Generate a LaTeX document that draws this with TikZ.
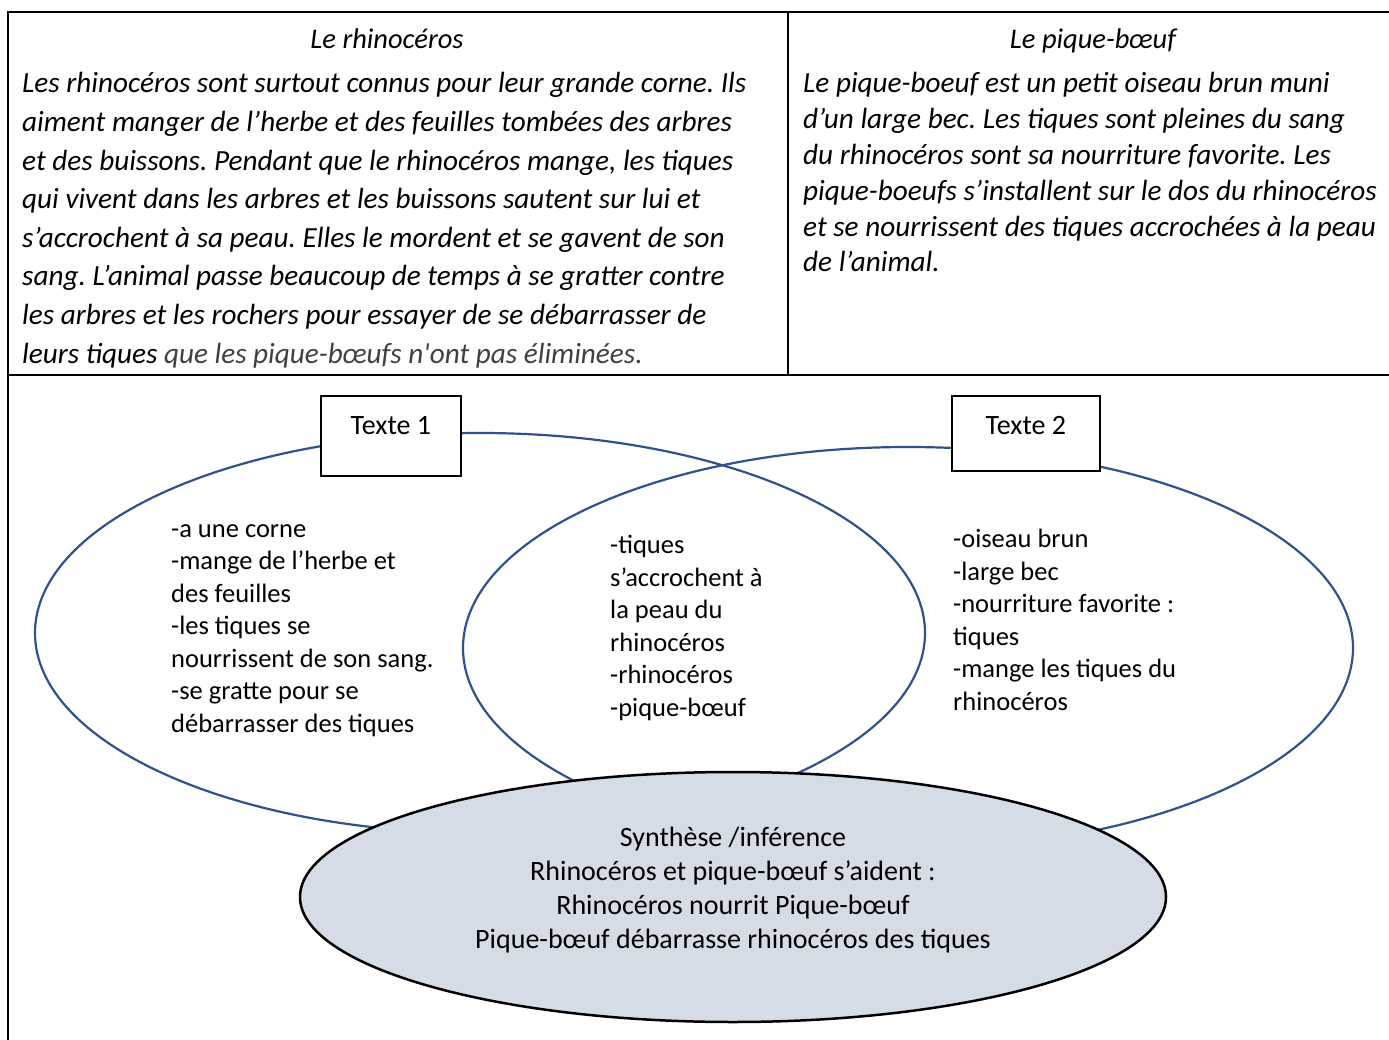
\documentclass[tikz,border=0pt]{standalone}
\usepackage{fontspec}
\setmainfont{Carlito}
\frenchspacing
\definecolor{vennblue}{RGB}{47,82,143}
\definecolor{synthgrey}{RGB}{214,220,229}
\definecolor{textgrey}{RGB}{64,64,64}

\begin{document}
\begin{tikzpicture}[x=1pt, y=-1pt,
  rule/.style={line width=2pt},
  vennline/.style={draw=vennblue, line width=2.2pt},
  title/.style={anchor=base, inner sep=0pt, font={\fontsize{28.5}{34}\selectfont\itshape}},
  para/.style={anchor=base west, align=left, inner sep=0pt},
  liste/.style={anchor=base west, align=left, inner sep=0pt, font={\fontsize{26.5}{32.5}\selectfont}},
  textebox/.style={draw, fill=white, line width=1.8pt, inner xsep=0pt, inner ysep=0pt, text height=39pt, text depth=41pt, font={\fontsize{28}{34}\selectfont}},
  synthtext/.style={align=center, inner sep=0pt, font={\fontsize{28}{34.3}\selectfont}}]
  \useasboundingbox (0,0) rectangle (1389,1040);
  % cadre du tableau
  \coordinate (hg) at (8,12);
  \coordinate (hd) at (1389,12);
  \coordinate (bg) at (8,1040);
  \coordinate (mh) at (788,12);
  \coordinate (mb) at (788,375);
  \coordinate (sg) at (8,375);
  \coordinate (sd) at (1389,375);
  \draw[rule] (hd) -- (hg) -- (bg);
  \draw[rule] (mh) -- (mb);
  \draw[rule] (sg) -- (sd);
  % les deux textes (ancre = ligne de base de la derniere ligne)
  \node[title] (titre1) at (387,49) {Le rhinocéros};
  \node[title] (titre2) at (1093,49) {Le pique-bœuf};
  \node[para, font={\fontsize{29.2}{38.6}\selectfont\itshape}] (texte-rhino) at (22,363)
    {Les rhinocéros sont surtout connus pour leur grande corne. Ils\\
     aiment manger de l’herbe et des feuilles tombées des arbres\\
     et des buissons. Pendant que le rhinocéros mange, les tiques\\
     qui vivent dans les arbres et les buissons sautent sur lui et\\
     s’accrochent à sa peau. Elles le mordent et se gavent de son\\
     sang. L’animal passe beaucoup de temps à se gratter contre\\
     les arbres et les rochers pour essayer de se débarrasser de\\
     leurs tiques {\color{textgrey}que les pique-bœufs n\textquotesingle ont pas éliminées.}};
  \node[para, font={\fontsize{29.2}{35.8}\selectfont\itshape}] (texte-oiseau) at (803,272)
    {Le pique-boeuf est un petit oiseau brun muni\\
     d’un large bec. Les tiques sont pleines du sang\\
     du rhinocéros sont sa nourriture favorite. Les\\
     pique-boeufs s’installent sur le dos du rhinocéros\\
     et se nourrissent des tiques accrochées à la peau\\
     de l’animal.};
  % diagramme de Venn
  \draw[vennline] (480,633) ellipse [x radius=445, y radius=200];
  \draw[vennline] (908,648) ellipse [x radius=445, y radius=201];
  \node[textebox, minimum width=140pt, anchor=north west] (texte1) at (320,395) {Texte 1};
  \node[textebox, minimum width=148pt, text depth=36pt, anchor=north west] (texte2) at (951,395) {Texte 2};
  \node[liste] (rhino) at (171,732)
    {-a une corne\\
     -mange de l’herbe et\\
     des feuilles\\
     -les tiques se\\
     nourrissent de son sang.\\
     -se gratte pour se\\
     débarrasser des tiques};
  \node[liste] (commun) at (610,716)
    {-tiques\\
     s’accrochent à\\
     la peau du\\
     rhinocéros\\
     -rhinocéros\\
     -pique-bœuf};
  \node[liste] (oiseau) at (953,710)
    {-oiseau brun\\
     -large bec\\
     -nourriture favorite :\\
     tiques\\
     -mange les tiques du\\
     rhinocéros};
  % synthese
  \draw[fill=synthgrey, line width=2.5pt] (733,897) ellipse [x radius=433, y radius=125];
  \node[synthtext] (synthese) at (733,890)
    {Synthèse /inférence\\
     Rhinocéros et pique-bœuf s’aident :\\
     Rhinocéros nourrit Pique-bœuf\\
     Pique-bœuf débarrasse rhinocéros des tiques};
\end{tikzpicture}
\end{document}
